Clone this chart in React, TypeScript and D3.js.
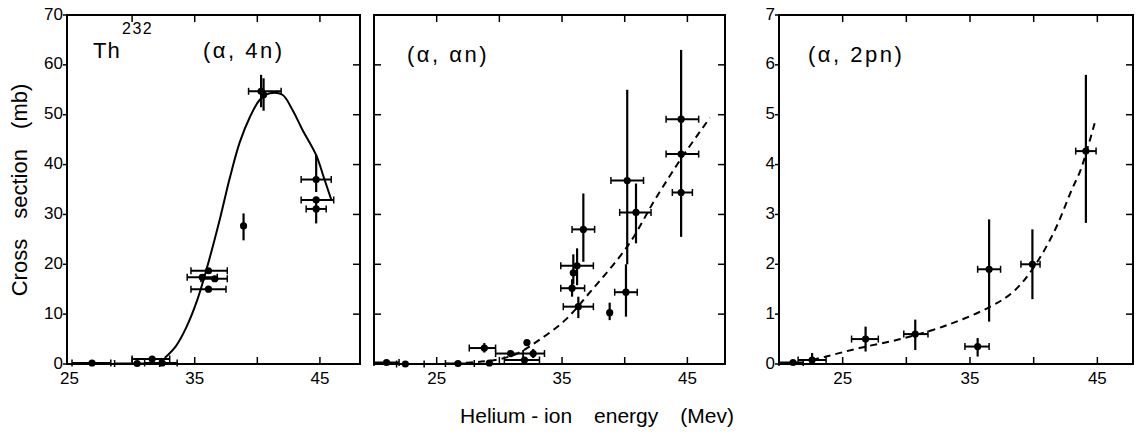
import React from "react";
import * as d3 from "d3";

// Each measured point: [energy, sigma, energyLow, energyHigh, sigmaLow, sigmaHigh]
type Pt = [number, number, number | null, number | null, number | null, number | null];

const fourNPoints: Pt[] = [
  [26.8, 0.2, 25.2, 28.3, null, null],
  [30.4, 0.1, 28.6, 32.2, null, null],
  [31.6, 1.0, 30.0, 33.0, null, null],
  [32.4, 0.2, 31.0, 33.6, null, null],
  [36.1, 18.7, 34.7, 37.6, null, null],
  [35.6, 17.4, 34.4, 36.8, null, null],
  [36.6, 17.1, 35.5, 37.6, null, null],
  [36.1, 15.0, 34.7, 37.5, null, null],
  [38.9, 27.7, null, null, 24.8, 30.2],
  [40.3, 54.7, 39.3, 41.9, 51.5, 58.0],
  [40.5, 54.0, null, null, 50.8, 57.3],
  [44.7, 37.0, 43.5, 45.9, 34.5, 41.9],
  [44.7, 32.9, 43.5, 46.1, null, null],
  [44.7, 31.1, 43.9, 45.5, 28.2, 33.0],
];
const fourNCurve: [number, number][] = [
  [32.6, 1.2], [33.5, 3.6], [34.3, 7.2], [35.2, 12.8], [36.0, 19.5], [37.0, 29.0],
  [37.8, 37.3], [38.6, 44.5], [39.4, 49.5], [40.2, 53.0], [41.0, 54.3], [42.0, 54.0],
  [42.8, 51.0], [43.6, 47.0], [44.7, 41.9], [45.3, 37.5], [45.9, 33.0],
];

const alphaNPoints: Pt[] = [
  [21.0, 0.3, 20.0, 22.0, null, null],
  [22.5, 0.0, 21.8, 24.0, null, null],
  [26.7, 0.1, 25.7, 28.0, null, null],
  [29.2, 0.2, null, null, null, null],
  [28.8, 3.2, 27.6, 29.7, 2.3, 4.2],
  [30.9, 2.1, 29.7, 31.9, null, null],
  [32.7, 2.1, 31.9, 33.6, 1.2, 3.0],
  [32.0, 0.8, 30.4, 33.2, null, null],
  [32.2, 4.3, null, null, null, null],
  [36.7, 27.0, 35.8, 37.6, 20.5, 34.2],
  [36.2, 19.7, 34.9, 37.5, 15.8, 23.2],
  [35.9, 18.3, null, null, 16.0, 22.0],
  [35.8, 15.2, 34.9, 36.8, 13.5, 17.0],
  [36.3, 11.5, 35.1, 37.5, 9.2, 13.5],
  [38.8, 10.3, null, null, 8.8, 12.3],
  [40.2, 36.8, 38.9, 41.5, 20.0, 55.0],
  [40.1, 14.4, 39.2, 41.0, 9.5, 20.0],
  [40.9, 30.4, 39.6, 42.1, 24.2, 36.2],
  [44.5, 49.1, 43.3, 45.9, null, null],
  [44.5, 42.1, 43.3, 45.9, null, null],
  [44.5, 34.4, 43.8, 45.4, 25.5, 63.0],
];
const alphaNCurve: [number, number][] = [
  [23.5, 0.0], [26.0, 0.05], [27.7, 0.3], [29.0, 0.6], [30.1, 1.0], [31.5, 2.2],
  [33.1, 4.7], [35.2, 8.7], [37.3, 14.6], [40.3, 23.9], [42.4, 32.9], [44.5, 41.2], [46.8, 49.4],
];

const twoPNPoints: Pt[] = [
  [21.1, 0.03, 20.0, 21.9, null, null],
  [22.6, 0.08, 21.5, 23.7, 0.0, 0.22],
  [26.8, 0.5, 25.7, 27.8, 0.25, 0.75],
  [30.7, 0.6, 29.8, 31.7, 0.28, 0.89],
  [35.6, 0.35, 34.6, 36.5, 0.15, 0.52],
  [36.5, 1.9, 35.6, 37.4, 0.85, 2.9],
  [39.9, 2.0, 39.0, 40.5, 1.3, 2.7],
  [44.1, 4.27, 43.3, 44.9, 2.83, 5.8],
];
const twoPNCurve: [number, number][] = [
  [22.6, 0.08], [23.7, 0.15], [26.3, 0.32], [29.7, 0.51], [33.2, 0.78], [36.6, 1.15],
  [38.4, 1.45], [39.9, 1.9], [41.6, 2.65], [43.0, 3.5], [43.7, 3.9], [44.8, 4.84],
];

const mbTicks = [0, 10, 20, 30, 40, 50, 60, 70];
const mbTicksSmall = [0, 1, 2, 3, 4, 5, 6, 7];
const energyLabels = [25, 35, 45];

const FONT = "'Liberation Sans', Arial, sans-serif";
const TOP = 15;
const BOTTOM = 364;

type PanelProps = {
  x0: number;
  x1: number;
  eDomain: [number, number];
  yMax: number;
  yTicks: number[];
  showLabels: boolean;
  points: Pt[];
  curve: [number, number][];
  dashed: boolean;
  energyTicks: number[];
};

function Panel(p: PanelProps) {
  const xs = d3.scaleLinear().domain(p.eDomain).range([p.x0, p.x1]);
  const ys = d3.scaleLinear().domain([0, p.yMax]).range([BOTTOM, TOP]);
  const line = d3
    .line<[number, number]>()
    .x((d) => xs(d[0]))
    .y((d) => ys(d[1]))
    .curve(d3.curveCatmullRom.alpha(0.5));
  const tl = 7;
  const cap = 3.5;
  return (
    <g>
      <rect x={p.x0} y={TOP} width={p.x1 - p.x0} height={BOTTOM - TOP} fill="none" stroke="#000" strokeWidth={2} />
      {p.yTicks.slice(1, -1).map((t) => (
        <g key={"yt" + t}>
          {!p.showLabels && <line x1={p.x0} x2={p.x0 + tl} y1={ys(t)} y2={ys(t)} stroke="#000" strokeWidth={1.5} />}
          <line x1={p.x1} x2={p.x1 - tl} y1={ys(t)} y2={ys(t)} stroke="#000" strokeWidth={1.5} />
        </g>
      ))}
      {p.showLabels &&
        p.yTicks.map((t) => (
          <g key={"yl" + t}>
            <line x1={p.x0} x2={p.x0 - 4} y1={ys(t)} y2={ys(t)} stroke="#000" strokeWidth={1.5} />
            <text x={p.x0 - 4} y={ys(t) - 1.5} dy="0.36em" textAnchor="end" fontSize={17} fontFamily={FONT}>
              {t}
            </text>
          </g>
        ))}
      {p.energyTicks.map((t) => (
        <g key={"xt" + t}>
          <line x1={xs(t)} x2={xs(t)} y1={TOP} y2={TOP + tl} stroke="#000" strokeWidth={1.5} />
          <line x1={xs(t)} x2={xs(t)} y1={BOTTOM} y2={BOTTOM - tl} stroke="#000" strokeWidth={1.5} />
        </g>
      ))}
      {energyLabels.map((t) => (
        <text key={"xl" + t} x={xs(t)} y={BOTTOM + 20} textAnchor="middle" fontSize={17} fontFamily={FONT}>
          {t}
        </text>
      ))}
      <path
        d={line(p.curve) || ""}
        fill="none"
        stroke="#000"
        strokeWidth={2}
        strokeDasharray={p.dashed ? "7,5" : undefined}
      />
      {p.points.map((d, i) => {
        const [e, v, eLo, eHi, vLo, vHi] = d;
        const cx = xs(e);
        const cy = ys(v);
        return (
          <g key={"pt" + i}>
            {eLo !== null && eHi !== null && (
              <g stroke="#000">
                <line x1={xs(eLo)} x2={xs(eHi)} y1={cy} y2={cy} strokeWidth={2} />
                <line x1={xs(eLo)} x2={xs(eLo)} y1={cy - cap} y2={cy + cap} strokeWidth={1.5} />
                <line x1={xs(eHi)} x2={xs(eHi)} y1={cy - cap} y2={cy + cap} strokeWidth={1.5} />
              </g>
            )}
            {vLo !== null && vHi !== null && (
              <line x1={cx} x2={cx} y1={ys(vLo)} y2={ys(vHi)} stroke="#000" strokeWidth={2.2} />
            )}
            <circle cx={cx} cy={cy} r={3.6} fill="#000" />
          </g>
        );
      })}
    </g>
  );
}

export default function App() {
  return (
    <div style={{ position: "absolute", left: 0, top: 0 }}>
      <svg width={1137} height={433} style={{ display: "block", background: "#fff" }}>
        <rect width={1137} height={433} fill="#fff" />
        <Panel
          x0={67}
          x1={360}
          eDomain={[24.8, 48.2]}
          yMax={70}
          yTicks={mbTicks}
          showLabels={true}
          points={fourNPoints}
          curve={fourNCurve}
          dashed={false}
          energyTicks={[30, 35, 40, 45]}
        />
        <Panel
          x0={374}
          x1={725}
          eDomain={[20, 48]}
          yMax={70}
          yTicks={mbTicks}
          showLabels={false}
          points={alphaNPoints}
          curve={alphaNCurve}
          dashed={true}
          energyTicks={[25, 30, 35, 40, 45]}
        />
        <Panel
          x0={779}
          x1={1133}
          eDomain={[20, 47.8]}
          yMax={7}
          yTicks={mbTicksSmall}
          showLabels={true}
          points={twoPNPoints}
          curve={twoPNCurve}
          dashed={true}
          energyTicks={[25, 30, 35, 40, 45]}
        />
        <g fontFamily={FONT} fill="#000">
          <text x={93} y={58} fontSize={22} letterSpacing={1}>Th</text>
          <text x={122} y={34} fontSize={16} letterSpacing={1.5}>232</text>
          <text x={203} y={58} fontSize={22} letterSpacing={2.5}>(α, 4n)</text>
          <text x={407} y={62} fontSize={22} letterSpacing={2.5}>(α, αn)</text>
          <text x={808} y={62} fontSize={22} letterSpacing={2.5}>(α, 2pn)</text>
          <text
            transform="translate(27,190) rotate(-90)"
            textAnchor="middle"
            fontSize={22}
            wordSpacing={14}
          >
            Cross section (mb)
          </text>
          <text x={597} y={423} textAnchor="middle" fontSize={21}>
            <tspan>Helium - ion</tspan>
            <tspan dx={22}>energy</tspan>
            <tspan dx={22}>(Mev)</tspan>
          </text>
        </g>
      </svg>
    </div>
  );
}
